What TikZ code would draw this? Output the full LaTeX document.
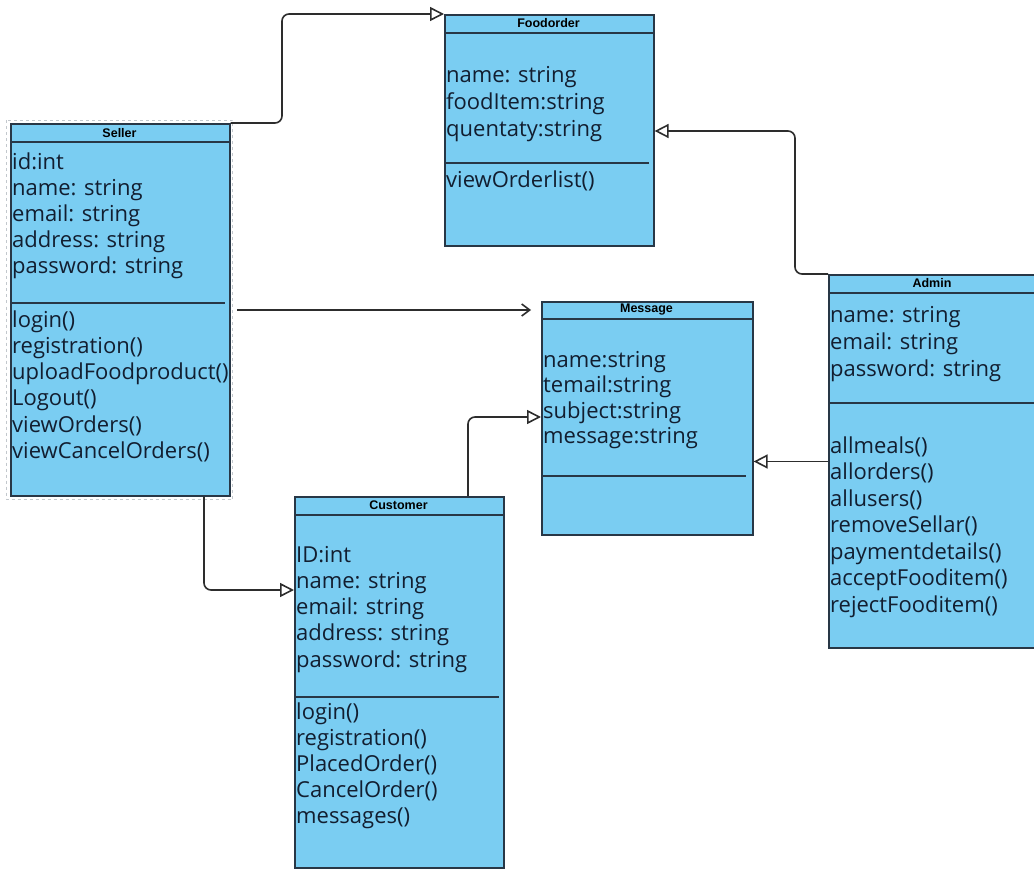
\documentclass[tikz,border=0pt]{standalone}
\usepackage{fontspec}
\setmainfont{Open Sans}
\newfontfamily\hdrfont{Liberation Sans}
\usetikzlibrary{arrows.meta}
\definecolor{clsfill}{RGB}{122,205,242}
\definecolor{clsline}{RGB}{40,55,70}
\definecolor{txtcol}{RGB}{18,30,48}
\definecolor{conncol}{RGB}{45,45,45}
\definecolor{selgray}{RGB}{195,200,205}
\tikzset{
  cls/.style={draw=clsline, fill=clsfill, line width=1.6pt, anchor=north west, inner sep=0pt},
  sepline/.style={draw=clsline, line width=1.3pt},
  hdr/.style={inner sep=0pt, font=\hdrfont\bfseries\fontsize{12.5}{14}\selectfont, text=black},
  txt/.style={anchor=base west, inner sep=0pt, font=\fontsize{22}{24}\selectfont, text=txtcol},
  conn/.style={draw=conncol, line width=1.6pt, rounded corners=7pt},
  gen/.style={conn, -{Triangle[open, fill=white, length=14pt, width=14pt]}},
  assoc/.style={conn, -{Straight Barb[length=8pt, width=12pt]}},
}
\newcommand\cltext[5]{%
  \foreach \t [count=\i] in {#5} {\node[txt] (#1\i) at (#2, {#3+(\i-1)*#4}) {\t};}}
\begin{document}
\begin{tikzpicture}[x=1pt,y=-1pt]
\useasboundingbox (0,0) rectangle (1034,869);
\fill[white] (0,0) rectangle (1034,869);

% selection outline of Seller
\draw[selgray, line width=1pt, dash pattern=on 3pt off 3pt] (6.5,120.5) rectangle (232.5,499.5);

% ---------- Seller ----------
\node[cls, minimum width=219pt, minimum height=372pt] (seller) at (10,123) {};
\draw[sepline] (10,142) -- (229,142);
\node[hdr] (seller-t) at (119.5,133) {Seller};
\cltext{seller-a}{12}{169.5}{26}{id:int,name: string,email: string,address: string,password: string}
\draw[sepline] (12,303) -- (225,303);
\cltext{seller-m}{12}{327}{26.3}{login(),registration(),uploadFoodproduct(),Logout(),viewOrders(),viewCancelOrders()}

% ---------- Foodorder ----------
\node[cls, minimum width=209pt, minimum height=231pt] (foodorder) at (444,14) {};
\draw[sepline] (444,33) -- (653,33);
\node[hdr] (foodorder-t) at (548.5,23.5) {Foodorder};
\cltext{foodorder-a}{446}{83}{27}{name: string,foodItem:string,quentaty:string}
\draw[sepline] (446,163) -- (649,163);
\node[txt] (foodorder-m1) at (446,188) {viewOrderlist()};

% ---------- Message ----------
\node[cls, minimum width=211pt, minimum height=233pt] (message) at (541,301) {};
\draw[sepline] (541,319) -- (752,319);
\node[hdr] (message-t) at (646.5,310) {Message};
\cltext{message-a}{543}{367}{25.5}{name:string,temail:string,subject:string,message:string}
\draw[sepline] (543,476) -- (746,476);

% ---------- Customer ----------
\node[cls, minimum width=209pt, minimum height=371pt] (customer) at (294,496) {};
\draw[sepline] (294,515) -- (503,515);
\node[hdr] (customer-t) at (398.5,505.5) {Customer};
\cltext{customer-a}{296}{562}{26.3}{ID:int,name: string,email: string,address: string,password: string}
\draw[sepline] (296,697) -- (499,697);
\cltext{customer-m}{296}{719}{26}{login(),registration(),PlacedOrder(),CancelOrder(),messages()}

% ---------- Admin ----------
\node[cls, minimum width=208pt, minimum height=373pt] (admin) at (828,274) {};
\draw[sepline] (828,293) -- (1036,293);
\node[hdr] (admin-t) at (932,283.5) {Admin};
\cltext{admin-a}{830}{323}{26.5}{name: string,email: string,password: string}
\draw[sepline] (828,403) -- (1036,403);
\cltext{admin-m}{830}{453}{26.5}{allmeals(),allorders(),allusers(),removeSellar(),paymentdetails(),acceptFooditem(),rejectFooditem()}

% ---------- Connectors ----------
\draw[gen] (seller.north east) -- (282,123) -- (282,14) -- (foodorder.north west);
\draw[gen] (admin.north west) -- (795,274) -- (795,131) -- (foodorder.east |- 0,131);
\coordinate (sm-start) at (237,310);
\coordinate (sm-end) at (531,310);
\draw[assoc] (sm-start) -- (sm-end);
\draw[gen] (customer.north -| 468,0) -- (468,417) -- (message.west |- 0,417);
\draw[gen] (seller.south -| 204,0) -- (204,590) -- (customer.west |- 0,590);
\draw[gen] (admin.west |- 0,461.5) -- (message.east |- 0,461.5);
\end{tikzpicture}
\end{document}
